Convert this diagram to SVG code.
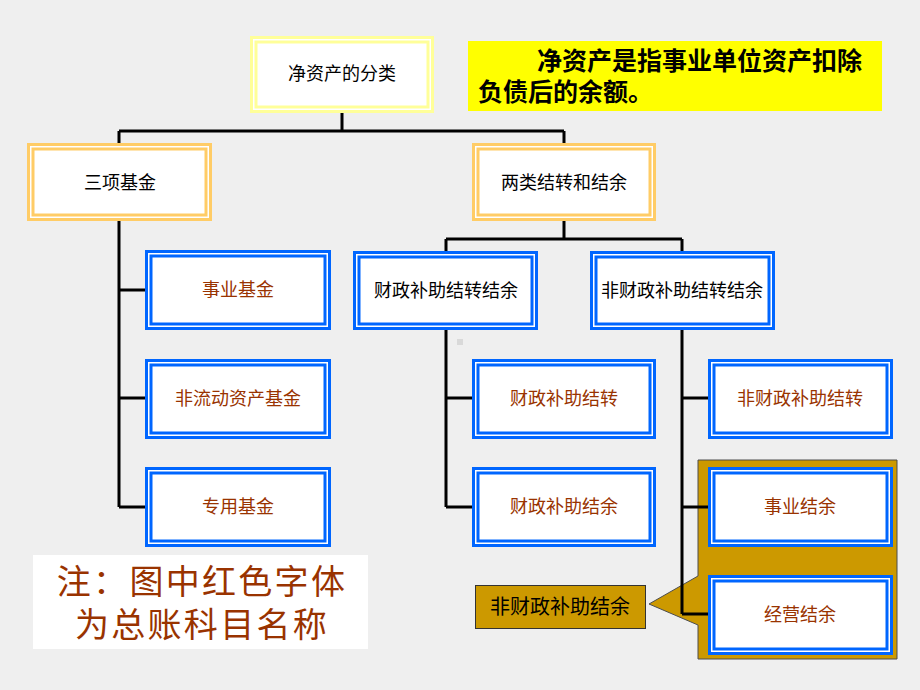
<svg xmlns="http://www.w3.org/2000/svg" width="920" height="690" viewBox="0 0 920 690">
<style>
text{font-family:"Noto Sans CJK SC","Liberation Sans",sans-serif;text-anchor:middle}
.t{font-size:18px;fill:#000}
.r{font-size:18px;fill:#993300}
.yo{fill:#fff;stroke:#ffff99;stroke-width:3}
.yi{fill:none;stroke:#ffff99;stroke-width:3}
.oo{fill:#fff;stroke:#ffcc66;stroke-width:3}
.oi{fill:none;stroke:#ffcc66;stroke-width:3}
.bo{fill:#fff;stroke:#0066ff;stroke-width:3}
.bi{fill:none;stroke:#0066ff;stroke-width:3}
.c{fill:none;stroke:#000;stroke-width:3}
.n{font-size:34px;letter-spacing:2.3px;fill:#993300}
</style>
<rect width="920" height="690" fill="#efefef"/>
<rect x="457" y="339" width="6" height="6" fill="#d9d9d9"/>
<g id="definition">
<rect x="468" y="41" width="414" height="70" fill="#ffff00"/>
<text x="537" y="70" style="font-size:25px;font-weight:bold;text-anchor:start">净资产是指事业单位资产扣除</text>
<text x="478" y="101" style="font-size:25px;font-weight:bold;text-anchor:start">负债后的余额。</text>
</g>
<g id="callout">
<path d="M698,460 H897 V659 H698 V625 L649,604 L698,576 Z" fill="#cc9900" stroke="#4d4d4d" stroke-width="1"/>
</g>
<g id="connectors">
<path class="c" d="M342,113 V131 M119,131 H564 M119,131 V144 M564,131 V144"/>
<path class="c" d="M119,221 V507 M119,290 H146 M119,398 H146 M119,507 H146"/>
<path class="c" d="M564,221 V239 M446,239 H682 M446,239 V252 M682,239 V252"/>
<path class="c" d="M446,330 V507 M446,398 H473 M446,507 H473"/>
<path class="c" d="M682,330 V614 M682,398 H709 M682,507 H709 M682,614 H709"/>
</g>
<g id="n-root">
<rect class="yo" x="251.5" y="37.5" width="181" height="74"/>
<rect class="yi" x="256" y="42" width="172" height="65"/>
<text class="t" x="342" y="80">净资产的分类</text>
</g>
<g id="n-sanxiang">
<rect class="oo" x="28.5" y="144.5" width="182" height="75"/>
<rect class="oi" x="33" y="149" width="173" height="66"/>
<text class="t" x="120" y="189">三项基金</text>
</g>
<g id="n-lianglei">
<rect class="oo" x="473.5" y="144.5" width="181" height="75"/>
<rect class="oi" x="478" y="149" width="172" height="66"/>
<text class="t" x="564" y="189">两类结转和结余</text>
</g>
<g id="n-shiyejijin">
<rect class="bo" x="146.5" y="251.5" width="183" height="77"/>
<rect class="bi" x="151" y="256" width="174" height="68"/>
<text class="r" x="238" y="296">事业基金</text>
</g>
<g id="n-feiliudong">
<rect class="bo" x="146.5" y="360.5" width="183" height="77"/>
<rect class="bi" x="151" y="365" width="174" height="68"/>
<text class="r" x="238" y="405">非流动资产基金</text>
</g>
<g id="n-zhuanyong">
<rect class="bo" x="146.5" y="468.5" width="183" height="77"/>
<rect class="bi" x="151" y="473" width="174" height="68"/>
<text class="r" x="238" y="513">专用基金</text>
</g>
<g id="n-caizheng">
<rect class="bo" x="354.5" y="252.5" width="182" height="76"/>
<rect class="bi" x="359" y="257" width="173" height="67"/>
<text class="t" x="446" y="297">财政补助结转结余</text>
</g>
<g id="n-feicaizheng">
<rect class="bo" x="591.5" y="252.5" width="182" height="76"/>
<rect class="bi" x="596" y="257" width="173" height="67"/>
<text class="t" x="682" y="297">非财政补助结转结余</text>
</g>
<g id="n-czjz">
<rect class="bo" x="473.5" y="360.5" width="181" height="77"/>
<rect class="bi" x="478" y="365" width="172" height="68"/>
<text class="r" x="564" y="405">财政补助结转</text>
</g>
<g id="n-czjy">
<rect class="bo" x="473.5" y="468.5" width="181" height="77"/>
<rect class="bi" x="478" y="473" width="172" height="68"/>
<text class="r" x="564" y="513">财政补助结余</text>
</g>
<g id="n-fczjz">
<rect class="bo" x="709.5" y="360.5" width="182" height="77"/>
<rect class="bi" x="714" y="365" width="173" height="68"/>
<text class="r" x="800" y="405">非财政补助结转</text>
</g>
<g id="n-shiyejieyu">
<rect class="bo" x="709.5" y="468.5" width="182" height="77"/>
<rect class="bi" x="714" y="473" width="173" height="68"/>
<text class="r" x="800" y="513">事业结余</text>
</g>
<g id="n-jingying">
<rect class="bo" x="709.5" y="576.5" width="182" height="77"/>
<rect class="bi" x="714" y="581" width="173" height="68"/>
<text class="r" x="800" y="621">经营结余</text>
</g>
<g id="n-label">
<rect x="475.5" y="585.5" width="170" height="43" fill="#cc9900" stroke="#333" stroke-width="1"/>
<text x="560" y="614" style="font-size:20px;fill:#000">非财政补助结余</text>
</g>
<g id="note">
<rect x="33" y="555" width="335" height="94" fill="#fff"/>
<text class="n" x="202" y="594">注：图中红色字体</text>
<text class="n" x="202" y="637">为总账科目名称</text>
</g>
</svg>
